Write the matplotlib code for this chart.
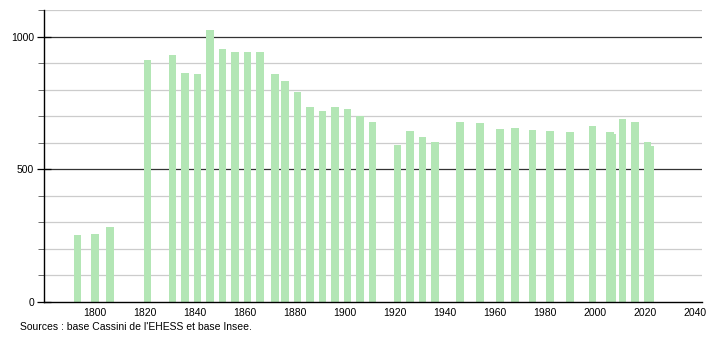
import matplotlib
matplotlib.use("Agg")
import matplotlib.pyplot as plt
from matplotlib.ticker import MultipleLocator

years = [1793, 1800, 1806, 1821, 1831, 1836, 1841, 1846, 1851, 1856,
         1861, 1866, 1872, 1876, 1881, 1886, 1891, 1896, 1901, 1906,
         1911, 1921, 1926, 1931, 1936, 1946, 1954, 1962, 1968, 1975,
         1982, 1990, 1999, 2006, 2007, 2011, 2016, 2021, 2022]
population = [252, 256, 282, 912, 929, 863, 860, 1026, 954, 943,
              940, 940, 860, 834, 792, 734, 720, 733, 728, 701,
              679, 592, 644, 622, 601, 678, 674, 652, 657, 649,
              644, 641, 664, 642, 633, 690, 679, 603, 589]
xticks = [1800, 1820, 1840, 1860, 1880, 1900, 1920, 1940, 1960, 1980, 2000, 2020, 2040]
source = "Sources : base Cassini de l'EHESS et base Insee."

plt.rcParams['font.family'] = ['Liberation Sans', 'DejaVu Sans']

fig = plt.figure(figsize=(7.1, 3.4), dpi=100)
ax = fig.add_axes([44/710, 38/340, 658/710, 292/340])

# grid: light every 100, dark at 500 / 1000
for v in range(100, 1101, 100):
    if v % 500 == 0:
        ax.axhline(v, color='#333333', lw=0.9, zorder=1)
    else:
        ax.axhline(v, color='#cccccc', lw=0.9, zorder=1)

ax.bar(years, population, width=2.9, color='#b3e6b5', zorder=2)

ax.set_xlim(1779.6, 2042.8)
ax.set_ylim(0, 1100)
ax.set_xticks(xticks)
ax.set_yticks([0, 500, 1000])
ax.yaxis.set_minor_locator(MultipleLocator(100))
ax.tick_params(axis='x', length=0, labelsize=7.5, pad=4)
ax.tick_params(axis='y', which='major', direction='inout', length=10, width=0.9, labelsize=7.5, pad=2)
ax.tick_params(axis='y', which='minor', direction='out', length=4, width=0.6, color='#555555')

for s in ['top', 'right']:
    ax.spines[s].set_visible(False)
ax.spines['left'].set_linewidth(1.0)
ax.spines['bottom'].set_linewidth(1.0)

fig.text(20/710, 1 - 327/340, source, fontsize=7.5, va='center', ha='left')

fig.savefig("out.png", dpi=100)
